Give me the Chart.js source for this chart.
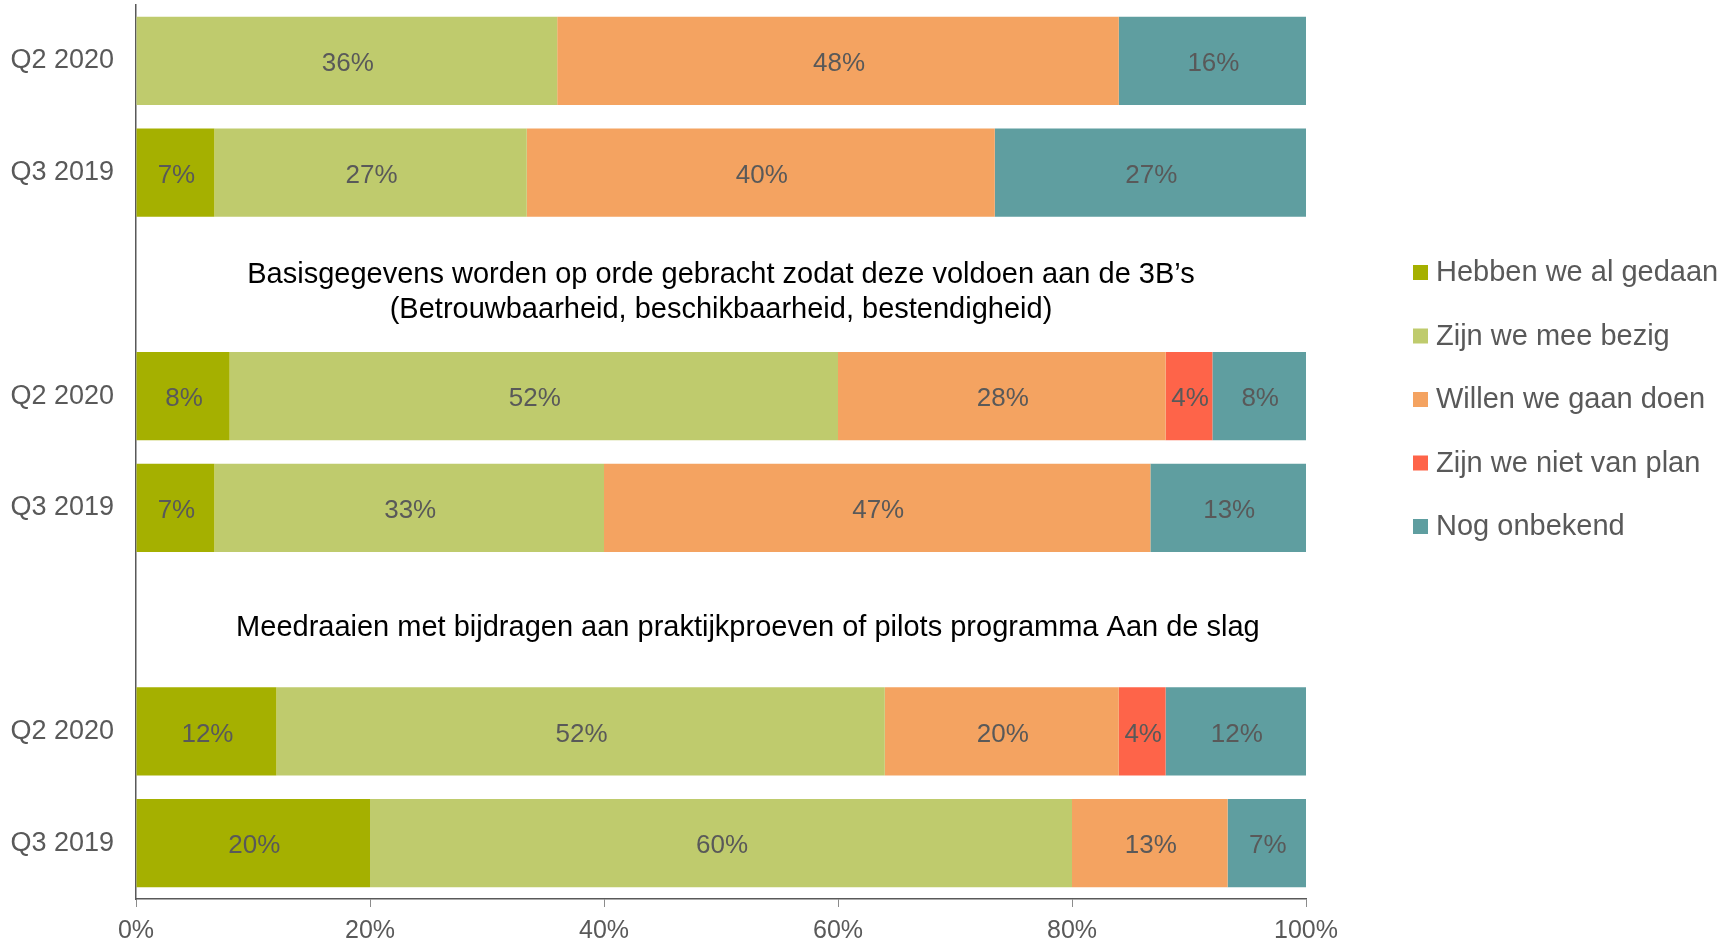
<!DOCTYPE html>
<html>
<head>
<meta charset="utf-8">
<script src="https://cdn.jsdelivr.net/npm/chart.js@4.4.1/dist/chart.umd.min.js"></script>
<style>
    html, body { margin: 0; padding: 0; background: #fff; }
    canvas { display: block; }
</style>
</head>
<body>
<canvas id="chart" width="1724" height="940"></canvas>
<script>
// ================================
// DATA
// ================================
// 8 rows: two empty rows hold the group titles
const rowLabels = ['Q2 2020', 'Q3 2019', '', 'Q2 2020', 'Q3 2019', '', 'Q2 2020', 'Q3 2019'];

const seriesNames = [
    'Hebben we al gedaan',
    'Zijn we mee bezig',
    'Willen we gaan doen',
    'Zijn we niet van plan',
    'Nog onbekend'
];
const seriesColors = ['#A5B000', '#BFCB6D', '#F4A361', '#FE6449', '#5F9EA0'];

const alGedaan   = [0,  6.7,  null, 8,  6.7,  null, 12, 20];
const meeBezig   = [36, 26.7, null, 52, 33.3, null, 52, 60];
const gaanDoen   = [48, 40,   null, 28, 46.7, null, 20, 13.3];
const nietVanPlan= [0,  0,    null, 4,  0,    null, 4,  0];
const onbekend   = [16, 26.6, null, 8,  13.3, null, 12, 6.7];

const xTicks = [0, 20, 40, 60, 80, 100];

// group titles sit in the empty rows; "at" is the centre on the x scale
const groupTitles = [
    { row: 2, at: 50, lines: ['Basisgegevens worden op orde gebracht zodat deze voldoen aan de 3B\u2019s',
                              '(Betrouwbaarheid, beschikbaarheid, bestendigheid)'] },
    { row: 5, at: 52.3, lines: ['Meedraaien met bijdragen aan praktijkproeven of pilots programma Aan de slag'] }
];

// ================================
// CONFIG
// ================================
const FONT = '"Liberation Sans", Arial, sans-serif';
const GREY = '#595959';

// ================================
// PLUGINS
// ================================
const barLabels = {
    id: 'barLabels',
    afterDatasetsDraw(chart) {
        const ctx = chart.ctx;
        ctx.save();
        ctx.font = '26px ' + FONT;
        ctx.fillStyle = GREY;
        ctx.textAlign = 'center';
        ctx.textBaseline = 'middle';
        chart.data.datasets.forEach((ds, i) => {
            const meta = chart.getDatasetMeta(i);
            meta.data.forEach((bar, j) => {
                const v = ds.data[j];
                if (!v) return;
                const p = bar.getCenterPoint();
                ctx.fillText(Math.round(v) + '%', p.x + 1, p.y + 3);
            });
        });
        ctx.restore();
    }
};

const titles = {
    id: 'groupTitles',
    afterDraw(chart) {
        const ctx = chart.ctx;
        const xs = chart.scales.x;
        const ys = chart.scales.y;
        ctx.save();
        ctx.font = '29px ' + FONT;
        ctx.fillStyle = '#000';
        ctx.textAlign = 'center';
        ctx.textBaseline = 'middle';
        groupTitles.forEach(t => {
            const cx = xs.getPixelForValue(t.at);
            const cy = ys.getPixelForValue(t.row) + 8;
            const lh = 35;
            const start = cy - (t.lines.length - 1) * lh / 2;
            t.lines.forEach((line, k) => ctx.fillText(line, cx, start + k * lh));
        });
        ctx.restore();
    }
};

const sideLegend = {
    id: 'sideLegend',
    afterDraw(chart) {
        const ctx = chart.ctx;
        ctx.save();
        ctx.font = '29px ' + FONT;
        ctx.textBaseline = 'middle';
        ctx.textAlign = 'left';
        chart.data.datasets.forEach((ds, i) => {
            const y = 272 + i * 63.5;
            ctx.fillStyle = ds.backgroundColor;
            ctx.fillRect(1413, y - 7, 15, 15);
            ctx.fillStyle = GREY;
            ctx.fillText(ds.label, 1436, y + 1);
        });
        ctx.restore();
    }
};

// ================================
// CHART
// ================================
const seriesData = [alGedaan, meeBezig, gaanDoen, nietVanPlan, onbekend];

function noPad(s) {
    s.paddingTop = 0;
    s.paddingBottom = 0;
}

new Chart(document.getElementById('chart'), {
    type: 'bar',
    data: {
        labels: rowLabels,
        datasets: seriesData.map((d, i) => ({
            label: seriesNames[i],
            data: d,
            backgroundColor: seriesColors[i],
            borderWidth: 0,
            categoryPercentage: 1,
            barPercentage: 0.79
        }))
    },
    options: {
        indexAxis: 'y',
        responsive: false,
        animation: false,
        layout: { padding: { top: 5, right: 418, left: 0, bottom: 0 } },
        plugins: {
            legend: { display: false },
            tooltip: { enabled: false }
        },
        scales: {
            x: {
                stacked: true,
                min: 0,
                max: 100,
                afterBuildTicks: s => { s.ticks = xTicks.map(v => ({ value: v })); },
                afterFit: s => { s.height = 41; },
                ticks: {
                    callback: v => v + '%',
                    color: GREY,
                    font: { family: FONT, size: 25 },
                    padding: 9,
                    maxRotation: 0
                },
                grid: {
                    display: true,
                    drawOnChartArea: false,
                    drawTicks: true,
                    tickLength: 8,
                    color: '#8c8c8c'
                },
                border: { display: true, color: GREY, width: 1.5 }
            },
            y: {
                stacked: true,
                afterFit: s => { s.width = 136; noPad(s); },
                ticks: {
                    color: GREY,
                    font: { family: FONT, size: 27 },
                    padding: 22
                },
                grid: { display: false, drawTicks: false },
                border: { display: true, color: GREY, width: 1.5 }
            }
        }
    },
    plugins: [barLabels, titles, sideLegend]
});
</script>
</body>
</html>
